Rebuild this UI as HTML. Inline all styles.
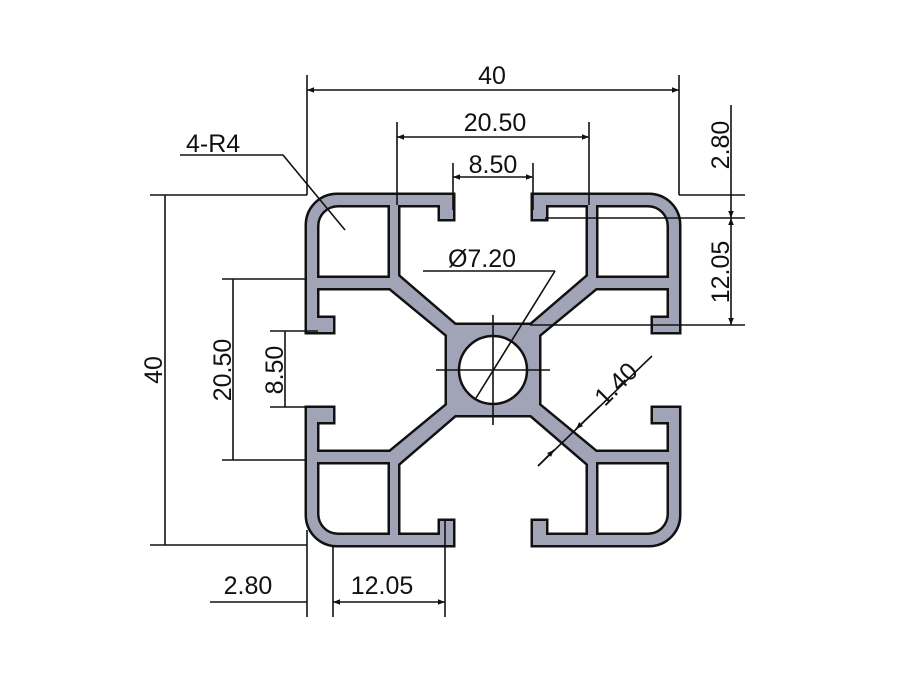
<!DOCTYPE html>
<html><head><meta charset="utf-8"><style>html,body{margin:0;padding:0;background:#fff}svg{display:block}</style></head>
<body>
<svg width="900" height="675" viewBox="0 0 900 675" xmlns="http://www.w3.org/2000/svg">
<defs>
<path id="q" fill-rule="evenodd" d="M493,325 L455,325 L398,276 L398,205 L440,205 L440,219 L453,219 L453,195 L337,195 A30,30 0 0 0 307,225 L307,332 L333,332 L333,318 L317,318 L317,288 L390,288 L447,335 L447,370 L493,370 Z M317,205 L390,205 L390,278 L317,278 L317,226 A21,21 0 0 1 338,205 Z"/>
<marker id="a" viewBox="0 0 10 10" refX="10" refY="5" markerWidth="10" markerHeight="7" orient="auto-start-reverse" markerUnits="userSpaceOnUse"><path d="M0,1 L10,5 L0,9 Z" fill="#111"/></marker>
</defs>
<g stroke="#111" stroke-width="5" fill="none" stroke-linejoin="miter">
<use href="#q"/>
<use href="#q" transform="translate(986,0) scale(-1,1)"/>
<use href="#q" transform="translate(0,740) scale(1,-1)"/>
<use href="#q" transform="translate(986,740) scale(-1,-1)"/>
</g>
<g fill="#a0a4b6" stroke="none">
<use href="#q"/>
<use href="#q" transform="translate(986,0) scale(-1,1)"/>
<use href="#q" transform="translate(0,740) scale(1,-1)"/>
<use href="#q" transform="translate(986,740) scale(-1,-1)"/>
</g>
<circle cx="493" cy="370" r="34" fill="#fff" stroke="#111" stroke-width="2.5"/>
<g stroke="#111" stroke-width="1.6" fill="none">
<line x1="436" y1="370" x2="550" y2="370"/>
<line x1="493" y1="315" x2="493" y2="425"/>
<line x1="423" y1="271" x2="555" y2="271"/>
<line x1="555" y1="271" x2="476" y2="398"/>
<line x1="307" y1="75" x2="307" y2="195"/>
<line x1="679" y1="75" x2="679" y2="195"/>
<line x1="307" y1="90" x2="679" y2="90" marker-start="url(#a)" marker-end="url(#a)"/>
<line x1="397" y1="122" x2="397" y2="205"/>
<line x1="589" y1="122" x2="589" y2="205"/>
<line x1="397" y1="137" x2="589" y2="137" marker-start="url(#a)" marker-end="url(#a)"/>
<line x1="453" y1="163" x2="453" y2="210"/>
<line x1="533" y1="163" x2="533" y2="210"/>
<line x1="453" y1="177" x2="533" y2="177" marker-start="url(#a)" marker-end="url(#a)"/>
<polyline points="180,155 283,155 345,230"/>
<line x1="679" y1="195" x2="745" y2="195"/>
<line x1="545" y1="218" x2="745" y2="218"/>
<line x1="530" y1="325" x2="745" y2="325"/>
<line x1="731" y1="105" x2="731" y2="218" marker-end="url(#a)"/>
<line x1="731" y1="218" x2="731" y2="325" marker-start="url(#a)" marker-end="url(#a)"/>
<line x1="150" y1="195" x2="307" y2="195"/>
<line x1="150" y1="545" x2="307" y2="545"/>
<line x1="165" y1="195" x2="165" y2="545"/>
<line x1="222" y1="279" x2="307" y2="279"/>
<line x1="222" y1="460" x2="307" y2="460"/>
<line x1="233" y1="279" x2="233" y2="460"/>
<line x1="270" y1="331" x2="318" y2="331"/>
<line x1="270" y1="407" x2="318" y2="407"/>
<line x1="285" y1="331" x2="285" y2="407"/>
<line x1="307" y1="530" x2="307" y2="617"/>
<line x1="333" y1="545" x2="333" y2="617"/>
<line x1="445" y1="520" x2="445" y2="617"/>
<line x1="210" y1="602" x2="307" y2="602"/>
<line x1="333" y1="602" x2="445" y2="602" marker-start="url(#a)" marker-end="url(#a)"/>
<line x1="538" y1="466" x2="652" y2="356"/>
<line x1="538" y1="466" x2="554" y2="450" marker-end="url(#a)"/>
<line x1="600" y1="406" x2="576" y2="429" marker-end="url(#a)"/>
</g>
<g font-family="Liberation Sans, sans-serif" font-size="25" fill="#111">
<text x="492" y="84" text-anchor="middle">40</text>
<text x="495" y="131" text-anchor="middle">20.50</text>
<text x="493" y="173" text-anchor="middle">8.50</text>
<text x="186" y="152">4-R4</text>
<text x="482" y="267" text-anchor="middle">Ø7.20</text>
<text x="248" y="594" text-anchor="middle">2.80</text>
<text x="382" y="594" text-anchor="middle">12.05</text>
<text transform="translate(729,145) rotate(-90)" text-anchor="middle">2.80</text>
<text transform="translate(729,272) rotate(-90)" text-anchor="middle">12.05</text>
<text transform="translate(162,370) rotate(-90)" text-anchor="middle">40</text>
<text transform="translate(231,370) rotate(-90)" text-anchor="middle">20.50</text>
<text transform="translate(283,370) rotate(-90)" text-anchor="middle">8.50</text>
<text transform="translate(622,390) rotate(-45)" text-anchor="middle">1.40</text>
</g>
</svg>
</body></html>
